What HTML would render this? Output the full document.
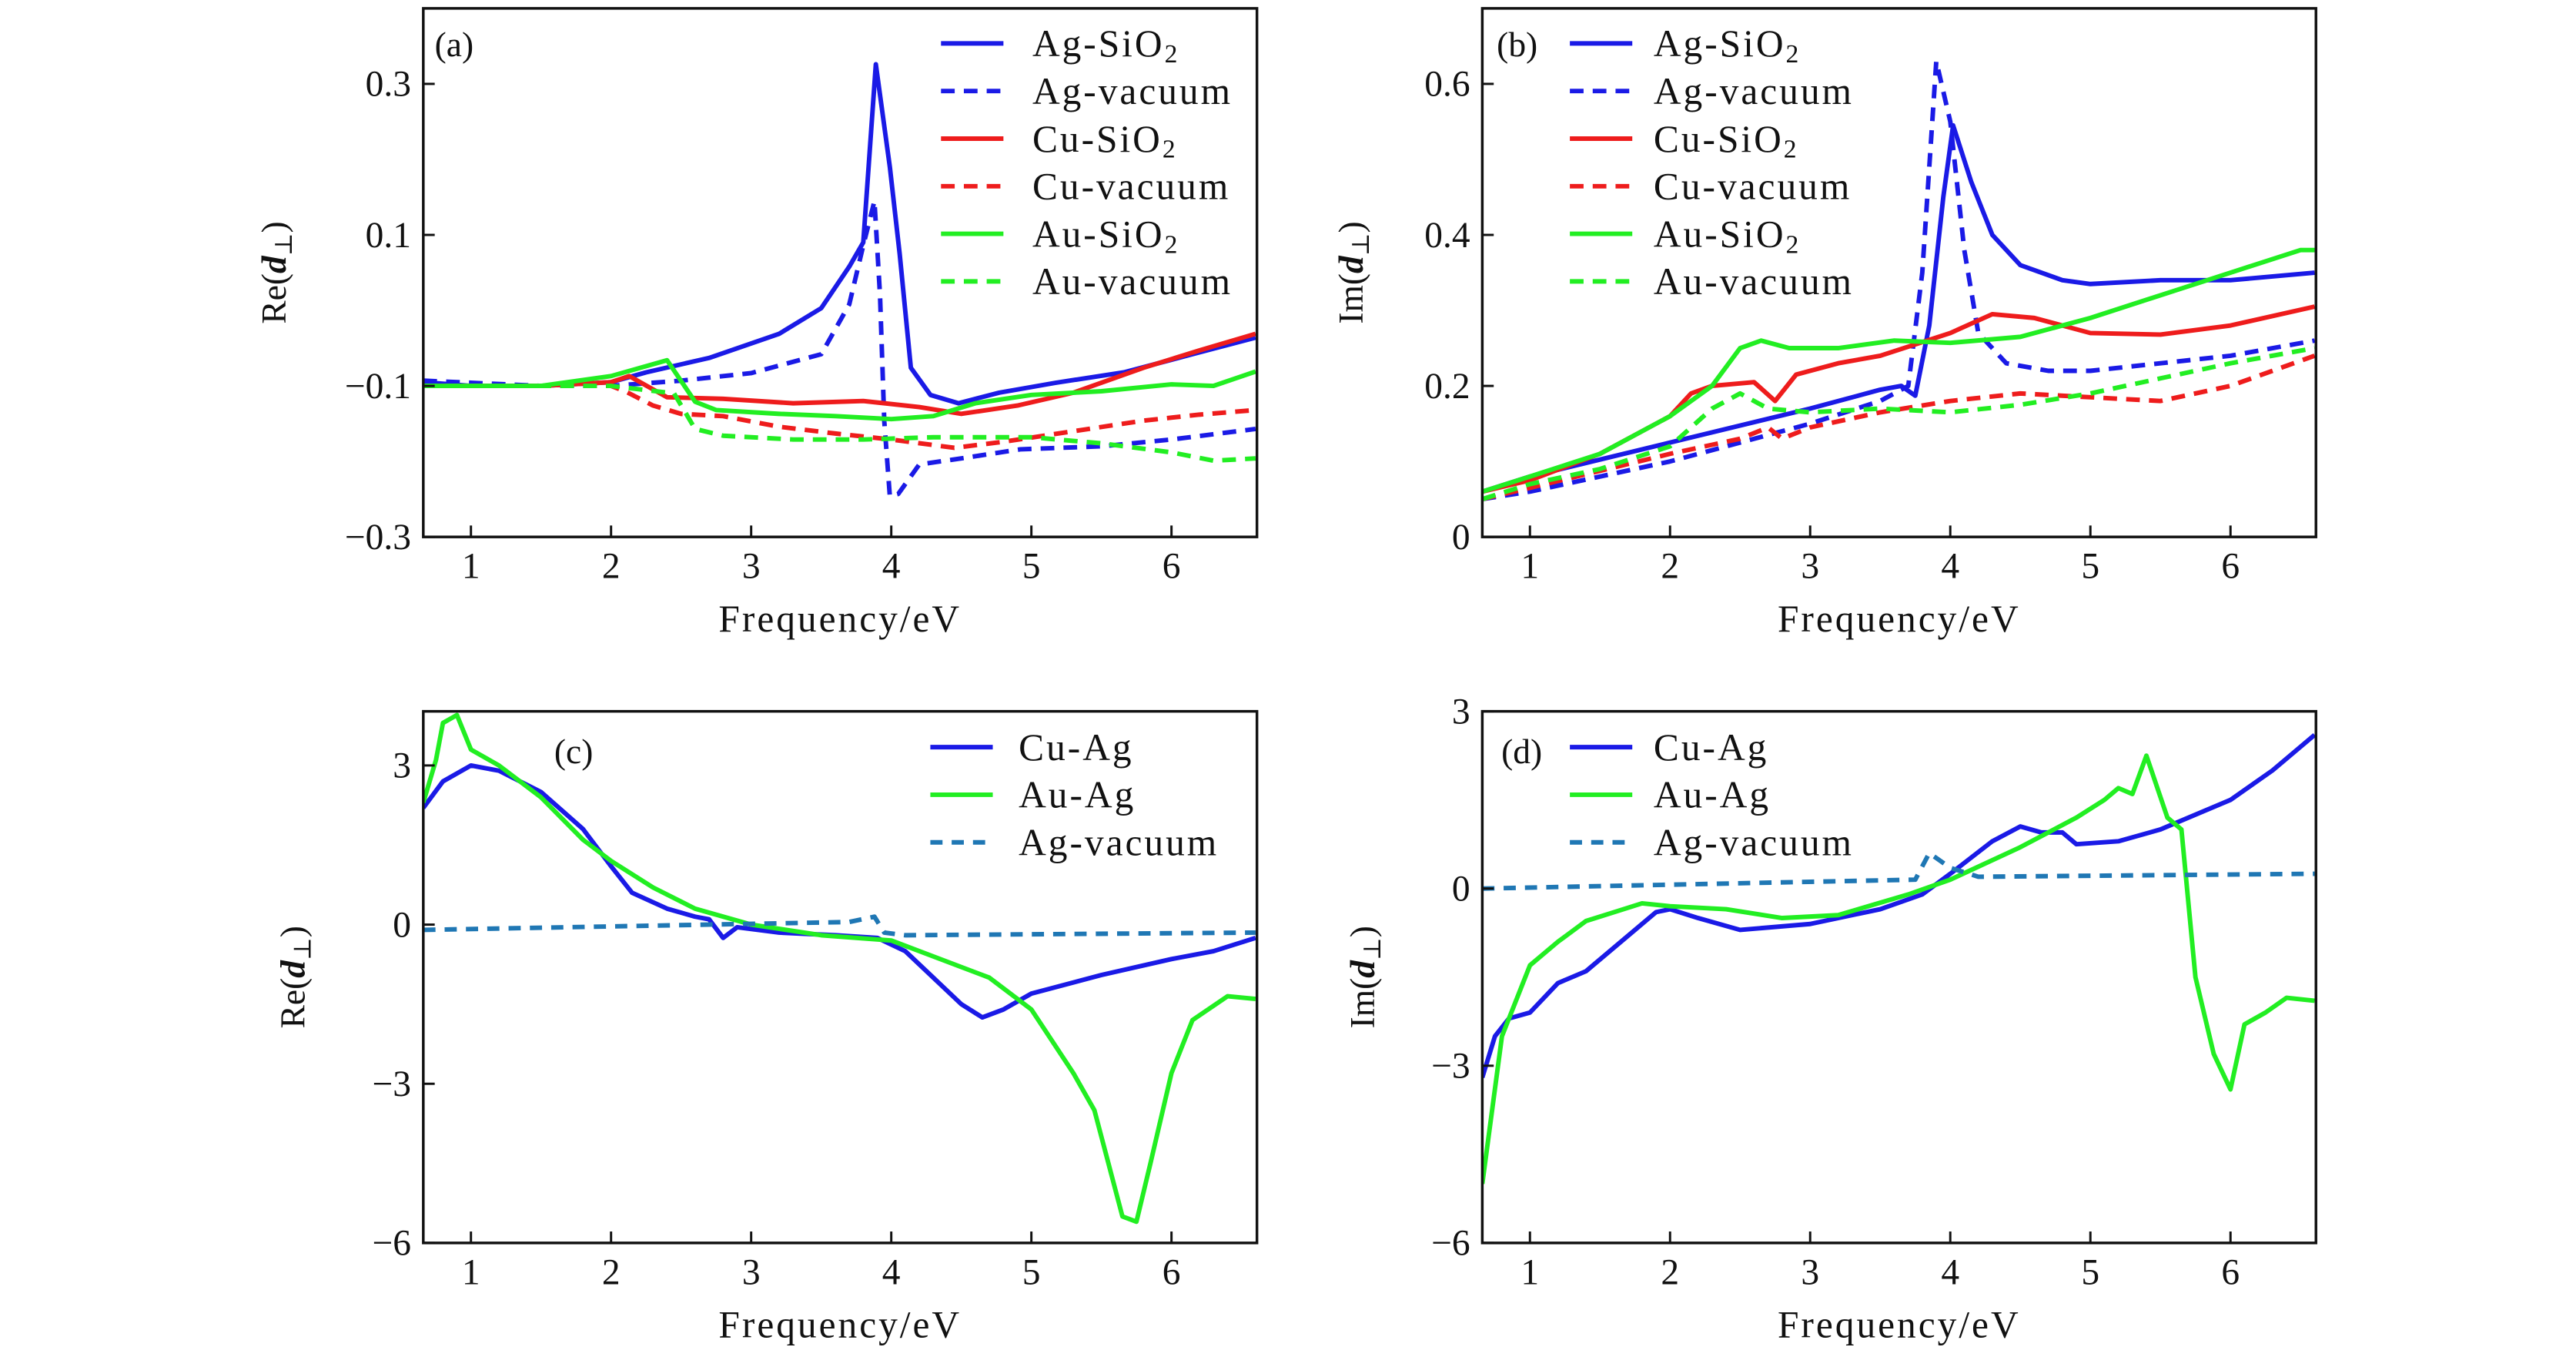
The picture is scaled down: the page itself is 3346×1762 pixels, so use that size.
<!DOCTYPE html>
<html><head><meta charset="utf-8"><style>
html,body{margin:0;padding:0;background:#fff}
svg{display:block}
text{font-family:"Liberation Serif","DejaVu Serif",serif;fill:#111}
</style></head><body>
<svg id="chart" width="3346" height="1762" viewBox="0 0 3346 1762" xmlns="http://www.w3.org/2000/svg"><g id="root" transform="scale(0.9889)"></g></svg>
<script>
// Panel (a) Re(d_perp)
const aAgSiO2=[[0.66,-0.095],[1.0,-0.1],[1.5,-0.1],[2.0,-0.095],[2.25,-0.082],[2.7,-0.063],[3.2,-0.031],[3.5,0.003],[3.7,0.058],[3.8,0.09],[3.89,0.326],[3.99,0.19],[4.06,0.075],[4.14,-0.076],[4.28,-0.112],[4.48,-0.123],[4.77,-0.109],[5.17,-0.096],[5.66,-0.082],[6.15,-0.058],[6.6,-0.036]];
const aAgVac=[[0.66,-0.093],[1.5,-0.1],[2.0,-0.1],[2.5,-0.093],[3.0,-0.083],[3.5,-0.058],[3.7,0.008],[3.8,0.086],[3.88,0.145],[3.92,0.02],[3.95,-0.147],[3.99,-0.246],[4.05,-0.243],[4.2,-0.204],[4.5,-0.196],[4.92,-0.184],[5.5,-0.18],[6.0,-0.171],[6.6,-0.157]];
const aCuSiO2=[[0.66,-0.1],[1.5,-0.1],[2.0,-0.095],[2.13,-0.087],[2.4,-0.115],[2.8,-0.117],[3.3,-0.123],[3.8,-0.12],[4.2,-0.128],[4.5,-0.137],[4.9,-0.126],[5.3,-0.109],[5.8,-0.076],[6.2,-0.053],[6.6,-0.031]];
const aCuVac=[[0.66,-0.1],[2.0,-0.1],[2.1,-0.107],[2.3,-0.126],[2.5,-0.137],[2.8,-0.14],[3.2,-0.154],[3.6,-0.163],[4.0,-0.171],[4.45,-0.182],[4.8,-0.174],[5.3,-0.16],[5.8,-0.146],[6.2,-0.138],[6.6,-0.132]];
const aAuSiO2=[[0.66,-0.1],[1.5,-0.1],[2.0,-0.087],[2.4,-0.066],[2.6,-0.121],[2.75,-0.132],[3.2,-0.137],[3.6,-0.14],[4.0,-0.144],[4.3,-0.14],[4.6,-0.123],[5.0,-0.112],[5.5,-0.107],[6.0,-0.098],[6.3,-0.1],[6.6,-0.081]];
const aAuVac=[[0.66,-0.1],[2.0,-0.1],[2.45,-0.11],[2.6,-0.157],[2.8,-0.166],[3.3,-0.171],[3.8,-0.171],[4.3,-0.168],[5.0,-0.168],[5.5,-0.176],[6.0,-0.188],[6.3,-0.199],[6.6,-0.196]];
// Panel (b) Im(d_perp)
const bAgSiO2=[[0.66,0.06],[1,0.08],[2,0.125],[3,0.17],[3.5,0.195],[3.65,0.2],[3.75,0.187],[3.85,0.28],[3.95,0.45],[4.02,0.545],[4.15,0.47],[4.3,0.4],[4.5,0.36],[4.8,0.34],[5,0.335],[5.5,0.34],[6,0.34],[6.6,0.35]];
const bAgVac=[[0.66,0.05],[1,0.06],[2,0.1],[3,0.15],[3.5,0.18],[3.7,0.2],[3.8,0.35],[3.9,0.63],[4.0,0.55],[4.1,0.38],[4.2,0.27],[4.4,0.23],[4.7,0.22],[5,0.22],[5.5,0.23],[6,0.24],[6.6,0.26]];
const bCuSiO2=[[0.66,0.06],[1,0.075],[1.5,0.11],[2,0.16],[2.15,0.19],[2.3,0.2],[2.6,0.205],[2.75,0.18],[2.9,0.215],[3.2,0.23],[3.5,0.24],[4,0.27],[4.3,0.295],[4.6,0.29],[5,0.27],[5.5,0.268],[6,0.28],[6.6,0.305]];
const bCuVac=[[0.66,0.05],[1,0.065],[2,0.11],[2.5,0.13],[2.7,0.145],[2.8,0.13],[3,0.145],[3.5,0.165],[4,0.18],[4.5,0.19],[5,0.185],[5.5,0.18],[6,0.2],[6.6,0.24]];
const bAuSiO2=[[0.66,0.06],[1,0.08],[1.5,0.11],[2,0.16],[2.3,0.2],[2.5,0.25],[2.65,0.26],[2.85,0.25],[3.2,0.25],[3.6,0.26],[4,0.257],[4.5,0.265],[5,0.29],[5.5,0.32],[6,0.35],[6.5,0.38],[6.6,0.38]];
const bAuVac=[[0.66,0.05],[1,0.07],[1.5,0.09],[2,0.12],[2.3,0.17],[2.5,0.19],[2.7,0.17],[3,0.165],[3.5,0.17],[4,0.165],[4.5,0.175],[5,0.19],[5.5,0.21],[6,0.23],[6.6,0.25]];
// Panel (c) Re(d_perp)
const cCuAg=[[0.66,2.2],[0.8,2.7],[1,3.0],[1.2,2.9],[1.5,2.5],[1.8,1.8],[2,1.1],[2.15,0.6],[2.4,0.3],[2.6,0.15],[2.7,0.1],[2.8,-0.25],[2.9,-0.05],[3.2,-0.15],[3.6,-0.2],[3.9,-0.25],[4.1,-0.5],[4.3,-1.0],[4.5,-1.5],[4.65,-1.75],[4.8,-1.6],[5,-1.3],[5.5,-0.95],[6,-0.65],[6.3,-0.5],[6.6,-0.25]];
const cAuAg=[[0.66,2.3],[0.75,3.1],[0.8,3.8],[0.9,3.95],[1,3.3],[1.2,3.0],[1.5,2.4],[1.8,1.6],[2,1.2],[2.3,0.7],[2.6,0.3],[3,0.0],[3.5,-0.2],[4,-0.3],[4.3,-0.6],[4.7,-1.0],[5,-1.6],[5.3,-2.8],[5.45,-3.5],[5.55,-4.5],[5.65,-5.5],[5.75,-5.6],[5.85,-4.5],[6,-2.8],[6.15,-1.8],[6.4,-1.35],[6.6,-1.4]];
const cAgVac=[[0.66,-0.1],[3.7,0.05],[3.88,0.15],[3.95,-0.15],[4.1,-0.2],[6.6,-0.15]];
// Panel (d) Im(d_perp)
const dCuAg=[[0.66,-3.2],[0.75,-2.5],[0.85,-2.2],[1,-2.1],[1.2,-1.6],[1.4,-1.4],[1.7,-0.8],[1.9,-0.4],[2,-0.35],[2.2,-0.5],[2.5,-0.7],[3,-0.6],[3.5,-0.35],[3.8,-0.1],[4,0.25],[4.3,0.8],[4.5,1.05],[4.65,0.95],[4.8,0.95],[4.9,0.75],[5.2,0.8],[5.5,1.0],[6,1.5],[6.3,2.0],[6.6,2.6]];
const dAuAg=[[0.66,-5.0],[0.8,-2.5],[1,-1.3],[1.2,-0.9],[1.4,-0.55],[1.6,-0.4],[1.8,-0.25],[2,-0.3],[2.4,-0.35],[2.8,-0.5],[3.2,-0.45],[3.7,-0.1],[4,0.15],[4.5,0.7],[4.9,1.2],[5.1,1.5],[5.2,1.7],[5.3,1.6],[5.4,2.25],[5.55,1.2],[5.65,1.0],[5.75,-1.5],[5.88,-2.8],[6,-3.4],[6.1,-2.3],[6.25,-2.1],[6.4,-1.85],[6.6,-1.9]];
const dAgVac=[[0.66,0.0],[3.75,0.15],[3.85,0.6],[4.0,0.35],[4.2,0.2],[6.6,0.25]];

const xTicks=[1,2,3,4,5,6];
const aYTicks=[0.3,0.1,-0.1,-0.3];
const bYTicks=[0,0.2,0.4,0.6];
const cYTicks=[3,0,-3,-6];
const dYTicks=[3,0,-3,-6];
const aYTickLabels=["0.3","0.1","\u22120.1","\u22120.3"];
const bYTickLabels=["0","0.2","0.4","0.6"];
const cYTickLabels=["3","0","\u22123","\u22126"];
const dYTickLabels=["3","0","\u22123","\u22126"];

const BLUE="#1a1ae6",RED="#ee1c1c",GREEN="#22ee22",TEAL="#1f77b4";
const NS="http://www.w3.org/2000/svg";
const root=document.getElementById('root');
function mk(tag,attrs,parent){const e=document.createElementNS(NS,tag);for(const k in attrs)e.setAttribute(k,attrs[k]);(parent||root).appendChild(e);return e;}

function panel(cfg){
  const g=mk('g',{});
  
  
  const L=cfg.box[0],R=cfg.box[1],T=cfg.box[2],B=cfg.box[3];
  const xs=v=>L+(v-0.66)/(6.61-0.66)*(R-L);
  const ys=v=>B-(v-cfg.ymin)/(cfg.ymax-cfg.ymin)*(B-T);
  const defs=mk('clipPath',{id:'clip'+cfg.id},g);
  mk('rect',{x:L,y:T,width:R-L,height:B-T},defs);
  cfg.series.forEach(s=>{
    const p=mk('path',{d:s.data.map((d,i)=>(i?'L':'M')+xs(d[0]).toFixed(1)+' '+ys(d[1]).toFixed(1)).join(' '),fill:'none',stroke:s.color,'stroke-width':6,'stroke-linejoin':'round','clip-path':'url(#clip'+cfg.id+')','stroke-dasharray':s.dash?s.dash:'none'},g);
    
    
  });
  const frame=mk('rect',{x:L,y:T,width:R-L,height:B-T,fill:'none',stroke:'#111','stroke-width':3.5},g);
  
  
  xTicks.forEach(v=>{
    mk('line',{x1:xs(v),x2:xs(v),y1:B,y2:B-15,stroke:'#111','stroke-width':3},g);
    const t=mk('text',{x:xs(v),y:B+54,'font-size':48,'text-anchor':'middle'},g);
    t.textContent=v;
    
    
  });
  cfg.yt.forEach((v,i)=>{
    mk('line',{x1:L,x2:L+15,y1:ys(v),y2:ys(v),stroke:'#111','stroke-width':3},g);
    const t=mk('text',{x:L-16,y:ys(v)+16,'font-size':48,'text-anchor':'end'},g);
    t.textContent=cfg.ytl[i];
    
    
  });
  const xl=mk('text',{x:(L+R)/2,y:B+124,'font-size':50,'letter-spacing':3,'text-anchor':'middle'},g);
  xl.textContent='Frequency/eV';
  
  
  const yl=mk('text',{x:0,y:0,'font-size':46,'text-anchor':'middle',transform:'translate('+cfg.ylx+','+(T+B)/2+') rotate(-90)'},g);
  yl.innerHTML=cfg.ylab+'(<tspan font-style="italic" font-weight="bold">d</tspan><tspan font-size="32" dy="8">\u22a5</tspan><tspan dy="-8">)</tspan>';
  
  
  const pl=mk('text',{x:cfg.plab[0],y:cfg.plab[1],'font-size':46},g);
  pl.textContent='('+cfg.id+')';
  
  
  cfg.series.forEach((s,i)=>{
    const y=cfg.leg[2]+i*62.5;
    const ln=mk('line',{x1:cfg.leg[0],x2:cfg.leg[0]+82,y1:y,y2:y,stroke:s.color,'stroke-width':6,'stroke-dasharray':s.dash?s.dash:'none'},g);
    
    
    const t=mk('text',{x:cfg.leg[1],y:y+17,'font-size':50,'letter-spacing':3},g);
    t.innerHTML=s.label;
    
    
  });
}
const sio='-SiO<tspan font-size="34" dy="8">2</tspan>';
panel({id:'a',box:[556,1651,11,705],ymin:-0.3,ymax:0.4,yt:aYTicks,ytl:aYTickLabels,ylab:'Re',ylx:375,plab:[571,74],leg:[1236,1356,57],
 series:[{key:'ag-sio2',data:aAgSiO2,color:BLUE,label:'Ag'+sio},{key:'ag-vacuum',data:aAgVac,color:BLUE,dash:'18 12',label:'Ag-vacuum'},{key:'cu-sio2',data:aCuSiO2,color:RED,label:'Cu'+sio},{key:'cu-vacuum',data:aCuVac,color:RED,dash:'18 12',label:'Cu-vacuum'},{key:'au-sio2',data:aAuSiO2,color:GREEN,label:'Au'+sio},{key:'au-vacuum',data:aAuVac,color:GREEN,dash:'18 12',label:'Au-vacuum'}]});
panel({id:'b',box:[1947,3042,11,705],ymin:0,ymax:0.7,yt:bYTicks,ytl:bYTickLabels,ylab:'Im',ylx:1790,plab:[1966,74],leg:[2062,2172,57],
 series:[{key:'ag-sio2',data:bAgSiO2,color:BLUE,label:'Ag'+sio},{key:'ag-vacuum',data:bAgVac,color:BLUE,dash:'18 12',label:'Ag-vacuum'},{key:'cu-sio2',data:bCuSiO2,color:RED,label:'Cu'+sio},{key:'cu-vacuum',data:bCuVac,color:RED,dash:'18 12',label:'Cu-vacuum'},{key:'au-sio2',data:bAuSiO2,color:GREEN,label:'Au'+sio},{key:'au-vacuum',data:bAuVac,color:GREEN,dash:'18 12',label:'Au-vacuum'}]});
panel({id:'c',box:[556,1651,934,1632],ymin:-6,ymax:4.02,yt:cYTicks,ytl:cYTickLabels,ylab:'Re',ylx:400,plab:[728,1002],leg:[1222,1338,981],
 series:[{key:'cu-ag',data:cCuAg,color:BLUE,label:'Cu-Ag'},{key:'au-ag',data:cAuAg,color:GREEN,label:'Au-Ag'},{key:'ag-vacuum',data:cAgVac,color:TEAL,dash:'16 12',label:'Ag-vacuum'}]});
panel({id:'d',box:[1947,3042,934,1632],ymin:-6,ymax:3,yt:dYTicks,ytl:dYTickLabels,ylab:'Im',ylx:1805,plab:[1972,1002],leg:[2062,2172,981],
 series:[{key:'cu-ag',data:dCuAg,color:BLUE,label:'Cu-Ag'},{key:'au-ag',data:dAuAg,color:GREEN,label:'Au-Ag'},{key:'ag-vacuum',data:dAgVac,color:TEAL,dash:'16 12',label:'Ag-vacuum'}]});
</script>
</body></html>
